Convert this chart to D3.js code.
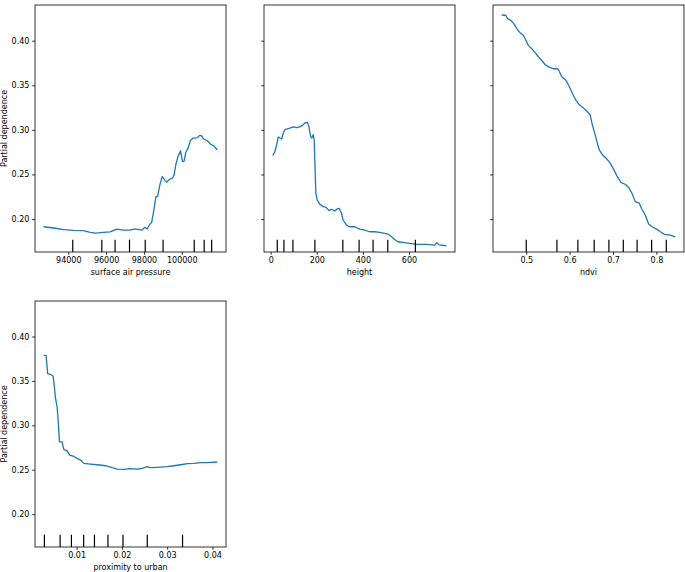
<!DOCTYPE html>
<html>
<head>
<meta charset="utf-8">
<script src="https://cdn.jsdelivr.net/npm/d3@7"></script>
<style>
  body { margin: 0; background: #fff; }
  svg { display: block; font-family: "DejaVu Sans", sans-serif; }
</style>
</head>
<body>
<div id="chart"></div>
<script>
// shared y axis
var yTicks = [0.20, 0.25, 0.30, 0.35, 0.40];

// surface air pressure
var pressureX = [92700, 93226, 93753, 94279, 94805, 95158, 95421, 95597, 95858, 96210, 96563, 96910, 97263, 97526, 97879, 98053, 98174, 98316, 98405, 98526, 98632, 98721, 98842, 98963, 99053, 99195, 99368, 99511, 99595, 99684, 99805, 99932, 100037, 100121, 100211, 100332, 100458, 100595, 100805, 100947, 101037, 101158, 101353, 101511, 101684, 101879];
var pressurePD = [0.1913, 0.1899, 0.1880, 0.1873, 0.1870, 0.1850, 0.1842, 0.1845, 0.1850, 0.1856, 0.1887, 0.1876, 0.1875, 0.1890, 0.1875, 0.1907, 0.1888, 0.1944, 0.1960, 0.2101, 0.2251, 0.2251, 0.2383, 0.2476, 0.2450, 0.2413, 0.2447, 0.2460, 0.2495, 0.2608, 0.2701, 0.2765, 0.2645, 0.2649, 0.2746, 0.2795, 0.2881, 0.2908, 0.2910, 0.2938, 0.2935, 0.2897, 0.2878, 0.2840, 0.2822, 0.2777];
var pressureDeciles = [94237, 95774, 96474, 97237, 98068, 99011, 100658, 101184, 101579];
var pressureTicks = [94000, 96000, 98000, 100000];

// height
var heightX = [8.7, 18.6, 26, 33, 40, 47.6, 54.5, 62, 72, 83.5, 98, 112.5, 127, 138.5, 148.5, 158.5, 165.8, 173, 178.8, 184.4, 188.7, 196, 201.7, 213.4, 227.7, 239.4, 253.7, 264, 278.4, 288.3, 297, 307.4, 314.3, 329, 343.3, 365, 386.6, 408, 430, 451.5, 473, 494.8, 509, 524, 538, 552.4, 588.7, 632, 675, 711, 721, 730, 762];
var heightPD = [0.2712, 0.2757, 0.2833, 0.2920, 0.2908, 0.2897, 0.2964, 0.3002, 0.3010, 0.3020, 0.3032, 0.3025, 0.3032, 0.3050, 0.3077, 0.3084, 0.3040, 0.2926, 0.2908, 0.2945, 0.2889, 0.2289, 0.2214, 0.2165, 0.2139, 0.2132, 0.2094, 0.2109, 0.2090, 0.2113, 0.2120, 0.2064, 0.1989, 0.1932, 0.1913, 0.1913, 0.1887, 0.1876, 0.1857, 0.1857, 0.1850, 0.1839, 0.1831, 0.1801, 0.1771, 0.1745, 0.1733, 0.1715, 0.1715, 0.1707, 0.1733, 0.1710, 0.1700];
var heightDeciles = [28.6, 57.6, 96.5, 191.8, 313, 383.6, 444.2, 508, 627.7];
var heightTicks = [0, 200, 400, 600];

// ndvi
var ndviX = [0.4434, 0.4527, 0.4565, 0.4649, 0.4725, 0.4804, 0.4857, 0.4933, 0.4989, 0.5049, 0.5127, 0.5203, 0.5280, 0.5358, 0.5434, 0.5527, 0.5626, 0.5727, 0.5757, 0.5820, 0.5912, 0.5989, 0.6065, 0.6143, 0.6219, 0.6319, 0.6397, 0.6473, 0.6513, 0.6573, 0.6628, 0.6681, 0.6758, 0.6859, 0.6935, 0.7012, 0.7090, 0.7189, 0.7282, 0.7358, 0.7436, 0.7513, 0.7605, 0.7667, 0.7744, 0.7821, 0.7898, 0.8014, 0.8090, 0.8190, 0.8321, 0.8436];
var ndviPD = [0.4288, 0.4285, 0.4248, 0.4228, 0.4183, 0.4120, 0.4090, 0.4060, 0.4007, 0.3947, 0.3910, 0.3865, 0.3820, 0.3778, 0.3733, 0.3703, 0.3685, 0.3685, 0.3660, 0.3595, 0.3557, 0.3489, 0.3407, 0.3332, 0.3283, 0.3246, 0.3208, 0.3170, 0.3077, 0.2971, 0.2870, 0.2777, 0.2720, 0.2672, 0.2627, 0.2559, 0.2484, 0.2409, 0.2390, 0.2357, 0.2289, 0.2195, 0.2177, 0.2109, 0.2045, 0.1944, 0.1913, 0.1884, 0.1857, 0.1828, 0.1820, 0.1800];
var ndviDeciles = [0.5, 0.5707, 0.619, 0.6566, 0.6905, 0.7237, 0.7555, 0.789, 0.8228];
var ndviTicks = [0.5, 0.6, 0.7, 0.8];

// proximity to urban
var urbanX = [0.00272, 0.00325, 0.0036, 0.0042, 0.0048, 0.00509, 0.00531, 0.00569, 0.00597, 0.0062, 0.00679, 0.00715, 0.0079, 0.00847, 0.00923, 0.01011, 0.01084, 0.01157, 0.01305, 0.01454, 0.01637, 0.01785, 0.01896, 0.02042, 0.0219, 0.02338, 0.02449, 0.0256, 0.02633, 0.02781, 0.03002, 0.03148, 0.03296, 0.03445, 0.03591, 0.03739, 0.03887, 0.04108];
var urbanPD = [0.3787, 0.3787, 0.3582, 0.3575, 0.3555, 0.3431, 0.3312, 0.3207, 0.3021, 0.2814, 0.2814, 0.2729, 0.2713, 0.2665, 0.2654, 0.2628, 0.2609, 0.2572, 0.2564, 0.2556, 0.2545, 0.2523, 0.2508, 0.2505, 0.2512, 0.2508, 0.2516, 0.2534, 0.2523, 0.2527, 0.2534, 0.2545, 0.2556, 0.2568, 0.2572, 0.2579, 0.2579, 0.2587];
var urbanDeciles = [0.00288, 0.00635, 0.00885, 0.01155, 0.01394, 0.01692, 0.02024, 0.0256, 0.0334];
var urbanTicks = [0.01, 0.02, 0.03, 0.04];

var panels = [
  { label: "surface air pressure", x: pressureX, y: pressurePD, deciles: pressureDeciles, ticks: pressureTicks, fmt: d3.format("d"), left: 35, top: 5, h: 247, yLabels: true },
  { label: "height", x: heightX, y: heightPD, deciles: heightDeciles, ticks: heightTicks, fmt: d3.format("d"), left: 264, top: 5, h: 247, yLabels: false },
  { label: "ndvi", x: ndviX, y: ndviPD, deciles: ndviDeciles, ticks: ndviTicks, fmt: d3.format(".1f"), left: 493, top: 5, h: 247, yLabels: false },
  { label: "proximity to urban", x: urbanX, y: urbanPD, deciles: urbanDeciles, ticks: urbanTicks, fmt: d3.format(".2f"), left: 35, top: 301, h: 246, yLabels: true }
];

var W = 685, H = 572, pw = 191;
var yDomain = [0.163, 0.440];
var fontSize = 8, tickLen = 2.8, pad = 2.8;

var svg = d3.select("#chart").append("svg")
    .attr("width", W)
    .attr("height", H);

panels.forEach(function (p) {
  var ext = d3.extent(p.x);
  var m = (ext[1] - ext[0]) * 0.05;

  var x = d3.scaleLinear()
      .domain([ext[0] - m, ext[1] + m])
      .range([0, pw]);
  var y = d3.scaleLinear()
      .domain(yDomain)
      .range([p.h, 0]);

  var g = svg.append("g")
      .attr("transform", "translate(" + p.left + "," + p.top + ")");

  // pd curve
  var line = d3.line()
      .x(function (d, i) { return x(p.x[i]); })
      .y(function (d) { return y(d); });

  g.append("path")
      .datum(p.y)
      .attr("d", line)
      .attr("fill", "none")
      .attr("stroke", "#1f77b4")
      .attr("stroke-width", 1.3)
      .attr("stroke-linejoin", "round");

  // deciles rug
  g.selectAll("line.decile")
      .data(p.deciles)
      .enter().append("line")
      .attr("class", "decile")
      .attr("x1", function (d) { return x(d); })
      .attr("x2", function (d) { return x(d); })
      .attr("y1", p.h)
      .attr("y2", p.h * 0.95)
      .attr("stroke", "#000")
      .attr("stroke-width", 1.2);

  // axes
  var gx = g.append("g")
      .attr("transform", "translate(0," + p.h + ")")
      .call(d3.axisBottom(x).tickValues(p.ticks).tickFormat(p.fmt).tickSize(tickLen).tickPadding(pad));

  var gy = g.append("g")
      .call(d3.axisLeft(y).tickValues(yTicks).tickFormat(p.yLabels ? d3.format(".2f") : "").tickSize(tickLen).tickPadding(pad));

  [gx, gy].forEach(function (a) {
    a.select("path.domain").remove();
    a.selectAll("line").attr("stroke", "#000").attr("stroke-width", 0.8);
    a.selectAll("text")
        .attr("fill", "#000")
        .style("font-size", fontSize + "px")
        .style("font-family", "DejaVu Sans, sans-serif");
  });

  // frame
  g.append("rect")
      .attr("width", pw)
      .attr("height", p.h)
      .attr("fill", "none")
      .attr("stroke", "#000")
      .attr("stroke-width", 0.8);

  g.append("text")
      .attr("x", pw / 2)
      .attr("y", p.h + 22.5)
      .attr("text-anchor", "middle")
      .attr("fill", "#000")
      .style("font-size", fontSize + "px")
      .text(p.label);

  if (p.yLabels) {
    g.append("text")
        .attr("transform", "translate(" + (6.5 - p.left) + "," + (p.h / 2) + ") rotate(-90)")
        .attr("text-anchor", "middle")
        .attr("fill", "#000")
        .style("font-size", fontSize + "px")
        .text("Partial dependence");
  }
});
</script>
</body>
</html>
